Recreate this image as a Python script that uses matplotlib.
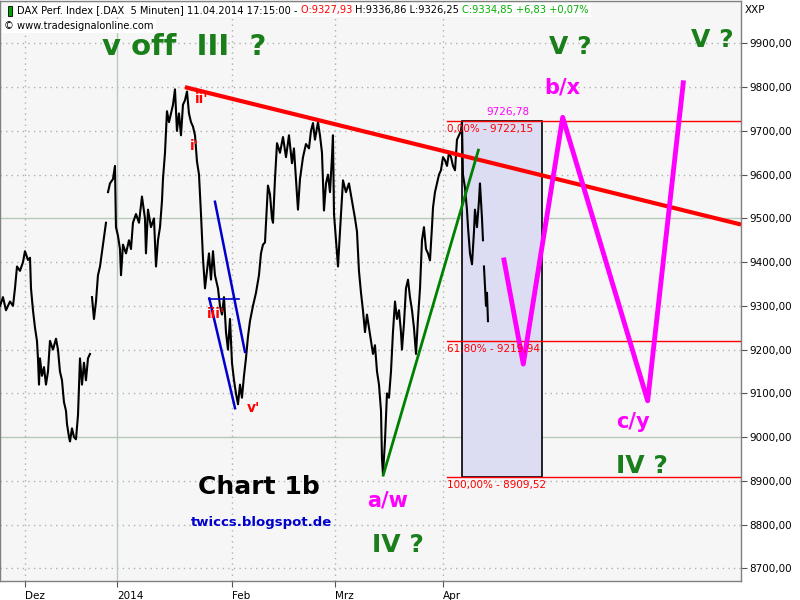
import numpy as np
import matplotlib.pyplot as plt
from matplotlib.patches import Rectangle

# x = trading days counted from 2 Dec 2013, y = DAX points
days = [-4.90, -4.33, -3.75, -2.98, -2.40, -2.02, -1.63, -1.06, -0.48, -0.10,
        0.48, 0.87, 1.06, 1.44, 1.83, 2.21, 2.40, 2.60, 2.79, 3.17,
        3.56, 3.94, 4.33, 4.71, 5.29, 5.87, 6.25, 6.63, 7.02, 7.40,
        7.79, 7.98, 8.37, 8.56, 8.94, 9.33, 9.71, 10.10, 10.48, 10.87,
        11.25, 11.63, 12.02, 12.40, np.nan,
        12.79, 13.17, 13.56, 13.94, 14.33, 14.90, 15.48, np.nan,
        15.87, 16.25, 16.83, 17.21, 17.40, 17.79, 18.17, 18.37, 18.75, 19.33,
        19.90, 20.29, 20.67, 21.25, 21.83, 22.40, 22.98, 23.17, 23.56, 24.13,
        24.71, 25.10, 25.48, 25.87, 26.25, 26.44, 26.83, 27.21, 27.60, 27.98,
        28.37, 28.75, 29.13, 29.52, 29.90, 30.29, 30.67, 31.06, 31.44, 31.83,
        32.21, 32.60, 32.98, 33.37, 33.75, 34.13, 34.52, 34.90, 35.29, 35.67,
        36.06, 36.44, 37.02, 37.40, 37.79, 38.17, 38.56, 38.94, 39.33, 39.71,
        40.10, 40.48, 40.87, 41.25, 41.63, 42.02, 42.40, 42.79, 43.17, 43.75,
        44.33, 44.90, 45.29, 45.67, 46.06, 46.44, 46.63, 47.02, 47.40, 47.60,
        47.98, 48.37, 48.94, 49.52, 50.10, 50.67, 51.25, 51.63, 52.02, 52.40,
        52.79, 53.37, 53.94, 54.52, 54.90, 55.29, 55.67, 56.25, 56.63, 57.02,
        57.40, 57.79, 58.17, 58.56, 58.94, 59.13, 59.33, 59.71, 60.10, 60.48,
        61.06, 61.63, 62.21, 62.79, 63.37, 63.75, 64.13, 64.52, 64.90, 65.29,
        65.67, 66.06, 66.44, 66.83, 67.21, 67.60, 67.98, 68.37, 68.56, 68.75,
        69.13, 69.52, 69.90, 70.29, 70.67, 71.06, 71.44, 71.83, 72.21, 72.40,
        72.79, 73.17, 73.56, 73.94, 74.33, 74.71, 75.10, 75.48, 75.87, 76.25,
        76.63, 77.02, 77.40, 77.79, 78.17, 78.37, 78.75, 79.13, 79.52, 79.90,
        80.29, 80.67, 81.06, 81.44, 81.83, 82.21, 82.60, 82.98, 83.37, 83.75,
        83.94, 84.13, 84.52, 84.90, 85.10, 85.48, 85.87, 86.25, 86.44, 86.83,
        87.21, 87.40, 87.79, 87.98, np.nan,
        88.17, 88.56, 88.75, 88.94]
prices = [9300, 9320, 9290, 9310, 9300, 9340, 9390, 9380, 9400, 9425,
          9405, 9410, 9340, 9290, 9250, 9220, 9180, 9120, 9180, 9140,
          9160, 9120, 9150, 9220, 9200, 9225, 9200, 9150, 9130, 9080,
          9060, 9030, 9000, 8990, 9020, 9000, 8995, 9050, 9180, 9120,
          9170, 9130, 9180, 9190, np.nan,
          9320, 9270, 9310, 9370, 9390, 9440, 9490, np.nan,
          9560, 9580, 9590, 9620, 9480, 9460, 9430, 9370, 9440, 9420,
          9450, 9430, 9490, 9510, 9490, 9550, 9500, 9420, 9520, 9480,
          9500, 9390, 9450, 9480, 9540, 9590, 9650, 9745, 9720, 9740,
          9760, 9795, 9700, 9740, 9690, 9760, 9770, 9790, 9740, 9720,
          9710, 9690, 9630, 9600, 9510, 9410, 9340, 9380, 9420, 9360,
          9425, 9370, 9340, 9300, 9280, 9320, 9240, 9200, 9270, 9170,
          9130, 9100, 9075, 9120, 9090, 9140, 9180, 9230, 9265, 9300,
          9330, 9370, 9420, 9440, 9445, 9530, 9575, 9555, 9500, 9490,
          9590, 9672, 9650, 9686, 9640, 9690, 9626, 9660, 9590, 9520,
          9590, 9640, 9670, 9660, 9700, 9718, 9680, 9720, 9690, 9650,
          9518, 9580, 9600, 9560, 9640, 9690, 9510, 9450, 9390, 9470,
          9587, 9560, 9580, 9540, 9500, 9470, 9380, 9330, 9290, 9240,
          9280, 9250, 9220, 9190, 9210, 9150, 9120, 9060, 8950, 8915,
          8990, 9100, 9090, 9150, 9240, 9310, 9270, 9290, 9240, 9200,
          9260, 9340, 9360, 9320, 9290, 9250, 9190, 9270, 9340, 9450,
          9480, 9430, 9420, 9404, 9480, 9525, 9560, 9580, 9600, 9610,
          9640, 9633, 9620, 9650, 9640, 9620, 9610, 9680, 9690, 9700,
          9720, 9600, 9570, 9520, 9480, 9420, 9395, 9470, 9520, 9480,
          9540, 9580, 9500, 9450, np.nan,
          9390, 9300, 9330, 9265]

month_ticks = [0, 17.67, 39.7, 59.5, 80.3]
month_labels = ['Dez', '2014', 'Feb', 'Mrz', 'Apr']
price_ticks = list(range(8700, 10000, 100))

# drawn annotations
red_trend_x = [30.67, 137.6]
red_trend_y = [9800, 9486]
green_x = [68.8, 87.1]
green_y = [8913, 9656]
blue1_x = [36.44, 42.2]
blue1_y = [9538, 9195]
blue2_x = [35.35, 40.3]
blue2_y = [9317, 9066]
blue_h_x = [35.35, 41.1]
blue_h_y = [9316, 9316]
proj_x = [92.02, 95.73, 103.31, 119.65, 126.5]
proj_y = [9405, 9167, 9731, 9083, 9810]

fib_levels = [9722.15, 9219.94, 8909.52]
fib_labels = ['0,00% - 9722,15', '61,80% - 9219,94', '100,00% - 8909,52']
fib_start = 81.06
box_x = [84.0, 99.4]
high_label = '9726,78'

x_min, x_max = -4.9, 137.6
y_min, y_max = 8671, 9997

fig = plt.figure(figsize=(8, 6), dpi=100)
ax = fig.add_axes([0, 19 / 600, 741 / 800, 580 / 600])
ax.set_facecolor('#f6f6f6')
ax.set_xlim(x_min, x_max)
ax.set_ylim(y_min, y_max)

# grid
for p in price_ticks:
    if p % 500 == 0:
        ax.axhline(p, color='#b7c9b7', lw=1, zorder=1)
    else:
        ax.axhline(p, color='#b0b0b0', lw=1, ls=(0, (1, 3)), zorder=1)
for t, lab in zip(month_ticks, month_labels):
    if lab == '2014':
        ax.axvline(t, color='#b7c9b7', lw=1, zorder=1)
    else:
        ax.axvline(t, color='#b0b0b0', lw=1, ls=(0, (1, 3)), zorder=1)

# fibonacci box
ax.add_patch(Rectangle((box_x[0], fib_levels[2]), box_x[1] - box_x[0],
                       fib_levels[0] - fib_levels[2], facecolor='#dcdcf3',
                       edgecolor='black', lw=1.2, zorder=2))
for lvl, lab in zip(fib_levels, fib_labels):
    ax.plot([fib_start, x_max], [lvl, lvl], color='red', lw=1, zorder=3)
    ax.text(fib_start, lvl - 18, lab, color='red', fontsize=7.5,
            ha='left', va='center', zorder=6)
ax.text(92.8, 9743, high_label, color='#ff00ff', fontsize=7.5,
        ha='center', va='center', zorder=6)

# price
ax.plot(days, prices, color='black', lw=1.5, zorder=4)

# lines
ax.plot(red_trend_x, red_trend_y, color='#ff0000', lw=3, zorder=5,
        solid_capstyle='butt')
ax.plot(green_x, green_y, color='#008000', lw=2, zorder=5)
ax.plot(blue1_x, blue1_y, color='#0000cc', lw=1.8, zorder=5)
ax.plot(blue2_x, blue2_y, color='#0000cc', lw=1.8, zorder=5)
ax.plot(blue_h_x, blue_h_y, color='#0000cc', lw=1.2, zorder=5)
ax.plot(proj_x, proj_y, color='#ff00ff', lw=3.5, zorder=5)

# labels
green = '#1a7f1a'
mag = '#ff00ff'
ax.text(30.5, 9892, 'v off  III  ?', color=green, fontsize=21, weight='bold',
        ha='center', va='center', zorder=7)
ax.text(104.7, 9892, 'V ?', color=green, fontsize=18, weight='bold',
        ha='center', va='center', zorder=7)
ax.text(132.0, 9907, 'V ?', color=green, fontsize=18, weight='bold',
        ha='center', va='center', zorder=7)
ax.text(118.6, 8934, 'IV ?', color=green, fontsize=18, weight='bold',
        ha='center', va='center', zorder=7)
ax.text(71.6, 8753, 'IV ?', color=green, fontsize=18, weight='bold',
        ha='center', va='center', zorder=7)
ax.text(103.2, 9800, 'b/x', color=mag, fontsize=15, weight='bold',
        ha='center', va='center', zorder=7)
ax.text(116.8, 9034, 'c/y', color=mag, fontsize=15, weight='bold',
        ha='center', va='center', zorder=7)
ax.text(69.7, 8856, 'a/w', color=mag, fontsize=15, weight='bold',
        ha='center', va='center', zorder=7)
ax.text(44.9, 8886, 'Chart 1b', color='black', fontsize=18, weight='bold',
        ha='center', va='center', zorder=7)
ax.text(45.3, 8804, 'twiccs.blogspot.de', color='#0000cc', fontsize=9.5,
        weight='bold', ha='center', va='center', zorder=7)
for tx, ty, s in [(33.9, 9772, "ii'"), (32.4, 9665, "i'"),
                  (36.6, 9282, "iii'"), (43.9, 9067, "v'")]:
    ax.text(tx, ty, s, color='red', fontsize=10, weight='bold',
            ha='center', va='center', zorder=7)

# axes
ax.yaxis.tick_right()
ax.set_yticks(price_ticks)
ax.set_yticklabels([f'{p},00' for p in price_ticks])
ax.set_xticks(month_ticks)
ax.set_xticklabels(month_labels)
for lab in ax.get_xticklabels():
    lab.set_horizontalalignment('left')
ax.tick_params(axis='y', length=4, labelsize=7.5, pad=2, color='#555555')
ax.tick_params(axis='x', length=4, labelsize=7.5, pad=3, color='#555555')
for s in ax.spines.values():
    s.set_color('#808080')
    s.set_linewidth(1)

# header
renderer = fig.canvas.get_renderer()
x0 = 17 / 800
pieces = [('DAX Perf. Index [.DAX  5 Minuten] 11.04.2014 17:15:00 - ', 'black'),
          ('O:9327,93 ', 'red'), ('H:9336,86 L:9326,25 ', 'black'),
          ('C:9334,85 +6,83 +0,07%', '#00b000')]
for s, c in pieces:
    t = fig.text(x0, 1 - 10 / 600, s, color=c, fontsize=7.1, ha='left',
                 va='center', zorder=10,
                 bbox=dict(facecolor='white', edgecolor='none', pad=1.5))
    bb = t.get_window_extent(renderer)
    x0 += bb.width / 800
fig.text(4 / 800, 1 - 26 / 600, '\u00a9 www.tradesignalonline.com', fontsize=7.1,
         ha='left', va='center', zorder=10,
         bbox=dict(facecolor='white', edgecolor='none', pad=1.5))
fig.text(745 / 800, 1 - 10 / 600, 'XXP', fontsize=7.5, ha='left', va='center')
fig.patches.append(Rectangle((8 / 800, 1 - 16 / 600), 4 / 800, 10 / 600,
                             facecolor='#00a000', edgecolor='black', lw=0.6,
                             transform=fig.transFigure, figure=fig, zorder=11))

fig.savefig('out.png', dpi=100, facecolor='white')
